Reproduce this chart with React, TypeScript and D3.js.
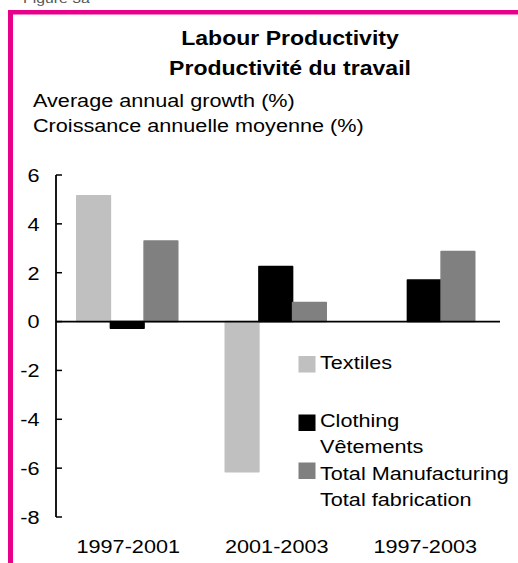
import React from "react";
import * as d3 from "d3";

const categories = ["1997-2001", "2001-2003", "1997-2003"];
const seriesNames = ["Textiles", "Clothing", "Total Manufacturing"];
const textiles: (number | null)[] = [5.15, -6.15, null];
const clothing: (number | null)[] = [-0.27, 2.25, 1.7];
const totalManufacturing: (number | null)[] = [3.3, 0.78, 2.87];
const yTicks = [-8, -6, -4, -2, 0, 2, 4, 6];
const legendLabels = [["Textiles"], ["Clothing", "Vêtements"], ["Total Manufacturing", "Total fabrication"]];
const titleLines = ["Labour Productivity", "Productivité du travail"];
const subtitleLines = ["Average annual growth (%)", "Croissance annuelle moyenne (%)"];

const colors = ["#C0C0C0", "#000000", "#808080"];
const FONT = "'Liberation Sans', Arial, sans-serif";
const SX = 1.17;

function T({ x, y, children, anchor = "start", size = 18.5, weight = "normal", fill = "#000" }: any) {
  return (
    <text
      transform={`translate(${x},${y}) scale(${SX},1)`}
      textAnchor={anchor}
      fontSize={size}
      fontWeight={weight}
      fontFamily={FONT}
      fill={fill}
    >
      {children}
    </text>
  );
}

export default function App() {
  const W = 518, H = 563;
  const y = d3.scaleLinear().domain([-8, 6]).range([517, 175]);
  const x = d3.scaleBand<string>().domain(categories).range([53, 498.5]).padding(0);
  const groupW = 101;
  const inner = d3.scaleBand<string>().domain(seriesNames).range([0, groupW]).padding(0);
  const series = [textiles, clothing, totalManufacturing];
  const axisX = 56;

  return (
    <svg width={W} height={H} style={{ position: "absolute", left: 0, top: 0, background: "#fff" }}>
      <rect x={0} y={0} width={W} height={H} fill="#fff" />
      <T x={23} y={3} size={13.5} fill="#555">Figure 3a</T>
      <rect x={8} y={10} width={W - 8} height={4.5} fill="#E8008A" />
      <rect x={8} y={10} width={5} height={H - 10} fill="#E8008A" />

      {titleLines.map((t, i) => (
        <T key={t} x={290} y={45 + i * 30} anchor="middle" size={19.7} weight="bold">{t}</T>
      ))}
      {subtitleLines.map((t, i) => (
        <T key={t} x={33} y={106.5 + i * 25} size={18.5}>{t}</T>
      ))}

      {categories.map((c, ci) => {
        const gx = (x(c) as number) + x.bandwidth() / 2 - groupW / 2;
        return series.map((s, si) => {
          const v = s[ci];
          if (v === null || v === undefined) return null;
          const bx = gx + (inner(seriesNames[si]) as number);
          const y0 = y(0), y1 = y(v);
          return (
            <rect
              key={`${ci}-${si}`}
              x={bx}
              y={Math.min(y0, y1)}
              width={inner.bandwidth()}
              height={Math.abs(y1 - y0)}
              fill={colors[si]}
              stroke={colors[si]}
              strokeWidth={1.5}
              strokeLinejoin="round"
            />
          );
        });
      })}

      <line x1={axisX} x2={axisX} y1={y(6)} y2={y(-8)} stroke="#000" strokeWidth={1.8} />
      {yTicks.map((t) => (
        <g key={t}>
          <line x1={axisX} x2={axisX + 6} y1={y(t)} y2={y(t)} stroke="#000" strokeWidth={1.5} />
          <T x={39.5} y={y(t) + 6.8} anchor="end" size={18.5}>{String(t)}</T>
        </g>
      ))}
      <line x1={axisX} x2={500} y1={y(0)} y2={y(0)} stroke="#000" strokeWidth={1.8} />

      {categories.map((c) => (
        <T key={c} x={(x(c) as number) + x.bandwidth() / 2 + 1} y={552.7} anchor="middle" size={18.5}>{c}</T>
      ))}

      {[
        { sy: 356, ty: 369.3 },
        { sy: 414.5, ty: 427 },
        { sy: 462.5, ty: 480 },
      ].map((p, i) => (
        <g key={i}>
          <rect x={298.5} y={p.sy} width={17} height={16.5} fill={colors[i]} />
          {legendLabels[i].map((l, li) => (
            <T key={l} x={320} y={p.ty + li * 26} size={18.5}>{l}</T>
          ))}
        </g>
      ))}
    </svg>
  );
}
